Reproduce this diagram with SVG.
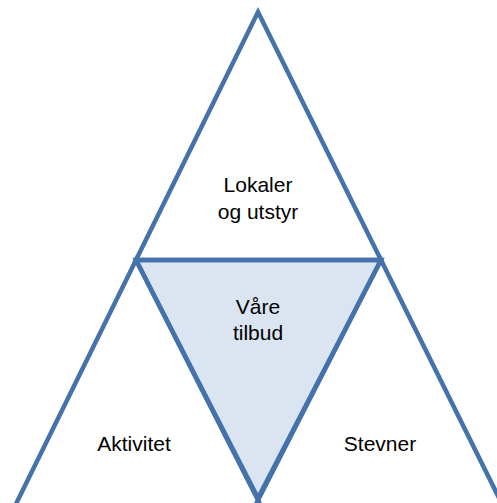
<svg xmlns="http://www.w3.org/2000/svg" width="497" height="503" viewBox="0 0 497 503">
  <style>
    .tri { fill: none; stroke: #4672AC; stroke-width: 4.5; stroke-linejoin: miter; }
    .center { fill: #DBE5F1; stroke: #4672AC; stroke-width: 4.5; stroke-linejoin: miter; }
    .lbl { font-family: "Liberation Sans", Arial, sans-serif; font-size: 21px; fill: #000; text-anchor: middle; }
  </style>
  <rect width="497" height="503" fill="#fff"/>
  <g id="center-node">
    <polygon class="center" points="136,260 381,260 258,498"/>
    <text class="lbl" x="258" y="314">Våre</text>
    <text class="lbl" x="258" y="340">tilbud</text>
  </g>
  <g id="top-node">
    <polygon class="tri" points="258,12 381,260 136,260"/>
    <text class="lbl" x="258" y="192">Lokaler</text>
    <text class="lbl" x="258" y="219">og utstyr</text>
  </g>
  <g id="left-node">
    <polygon class="tri" points="136,260 262,508 14,508"/>
    <text class="lbl" x="134" y="451">Aktivitet</text>
  </g>
  <g id="right-node">
    <polygon class="tri" points="381,260 504,508 254,508"/>
    <text class="lbl" x="380" y="451">Stevner</text>
  </g>
  <g id="connectors"></g>
</svg>
